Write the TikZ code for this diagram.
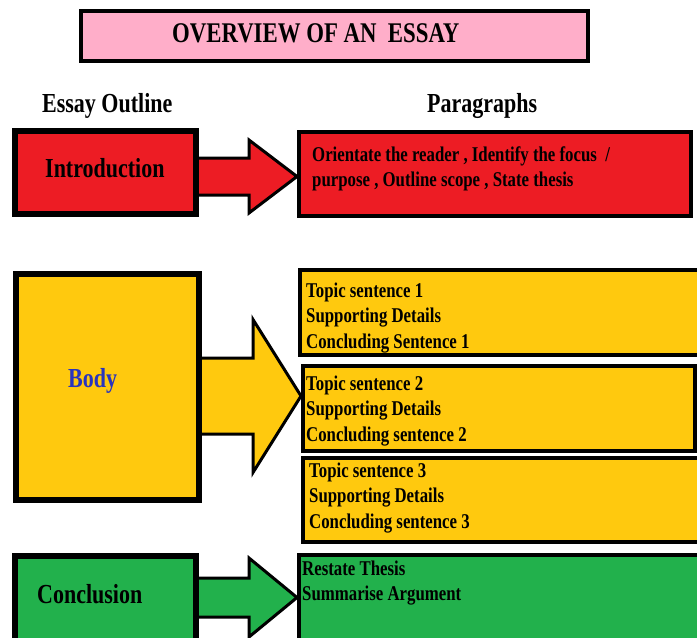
\documentclass[tikz,border=0pt]{standalone}
\usepackage{fontspec}
\setmainfont{Liberation Serif}[FakeStretch=0.8]
\usetikzlibrary{calc}
\definecolor{titlepink}{RGB}{255,174,201}
\definecolor{introred}{RGB}{237,28,36}
\definecolor{bodyyellow}{RGB}{255,201,14}
\definecolor{conclgreen}{RGB}{34,177,76}
\definecolor{bodyblue}{RGB}{40,52,190}
\tikzset{
	x=1pt,
	y=-1pt,
	outlinebox/.style={
		draw, line width=6pt, inner sep=0pt, anchor=north west
	},
	parabox/.style={
		draw, line width=4pt, inner sep=0pt, anchor=north west
	},
	headtext/.style={
		inner sep=0pt, anchor=base west,
		font=\bfseries\fontsize{27.5}{30}\selectfont
	},
	paratext/.style={
		inner sep=0pt, anchor=base west, align=left,
		font=\bfseries\fontsize{21}{25.5}\selectfont
	},
	blockarrow/.style={
		draw, line width=3pt
	}
}

\begin{document}
\begin{tikzpicture}
	\useasboundingbox (0,0) rectangle (697,638);
	\clip (0,0) rectangle (697,638);

	% boxes
	\node [parabox, fill=titlepink, minimum width=507pt, minimum height=50pt] (title) at (79,9) {};
	\node [outlinebox, fill=introred, minimum width=181pt, minimum height=83pt] (intro) at (12,128) {};
	\node [parabox, fill=introred, minimum width=392pt, minimum height=84pt] (introp) at (297,130) {};
	\node [outlinebox, fill=bodyyellow, minimum width=183pt, minimum height=226pt] (body) at (13,271) {};
	\node [parabox, fill=bodyyellow, minimum width=416pt, minimum height=85pt] (topic1) at (298,268) {};
	\node [parabox, fill=bodyyellow, minimum width=392pt, minimum height=85pt] (topic2) at (301,364) {};
	\node [parabox, fill=bodyyellow, minimum width=416pt, minimum height=84pt] (topic3) at (301,456) {};
	\node [outlinebox, fill=conclgreen, minimum width=181pt, minimum height=100pt] (concl) at (12,553) {};
	\node [parabox, fill=conclgreen, minimum width=416pt, minimum height=100pt] (conclp) at (297,553) {};

	% texts (multi-line nodes sit on their last baseline)
	\node [headtext, font=\bfseries\fontsize{28.5}{30}\selectfont] (titletext) at ([shift={(93,33)}]title.north west) {OVERVIEW OF AN\ \ ESSAY};
	\node [headtext] (outlinehead) at ([shift={(30,-16)}]intro.north west) {Essay Outline};
	\node [headtext] (parahead) at ([shift={(130,-18)}]introp.north west) {Paragraphs};
	\node [headtext] (introtext) at ([shift={(33,49)}]intro.north west) {Introduction};
	\node [headtext, text=bodyblue] (bodytext) at ([shift={(55,116)}]body.north west) {Body};
	\node [headtext] (concltext) at ([shift={(25,50)}]concl.north west) {Conclusion};
	\node [paratext] (introptext) at ([shift={(15,56.5)}]introp.north west) {Orientate the reader , Identify the focus\ \ /\\purpose , Outline scope , State thesis};
	\node [paratext] (topic1text) at ([shift={(8,80)}]topic1.north west) {Topic sentence 1\\Supporting Details\\Concluding Sentence 1};
	\node [paratext] (topic2text) at ([shift={(5,77)}]topic2.north west) {Topic sentence 2\\Supporting Details\\Concluding sentence 2};
	\node [paratext] (topic3text) at ([shift={(8,72)}]topic3.north west) {Topic sentence 3\\Supporting Details\\Concluding sentence 3};
	\node [paratext] (conclptext) at ([shift={(5,47.5)}]conclp.north west) {Restate Thesis\\Summarise Argument};

	% block arrows
	\foreach \from/\to/\yy/\shaft/\head/\col in {intro/introp/176.5/18.5/36.5/introred, body/topic2/396/38/76.5/bodyyellow, concl/conclp/597.5/19.5/39.5/conclgreen}
		\draw [blockarrow, fill=\col] let \p1=(\from.east), \p2=(\to.west), \p3=(0,\yy) in
			(\x1,\y3+\shaft*1pt) -- (\x2-48pt,\y3+\shaft*1pt) -- (\x2-48pt,\y3+\head*1pt) -- (\x2,\y3)
			-- (\x2-48pt,\y3-\head*1pt) -- (\x2-48pt,\y3-\shaft*1pt) -- (\x1,\y3-\shaft*1pt);
\end{tikzpicture}
\end{document}
